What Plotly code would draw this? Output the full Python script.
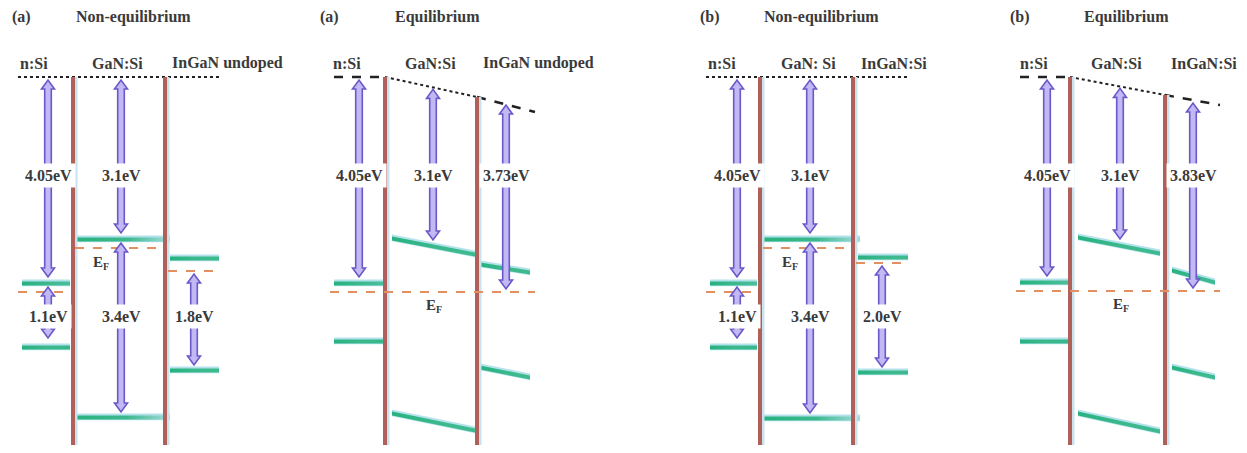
import plotly.graph_objects as go

W, H = 1247, 453
OFF = 8  # browser default body margin

# ---------------- text content ----------------
panel_tags = ["(a)", "(a)", "(b)", "(b)"]
panel_titles = ["Non-equilibrium", "Equilibrium", "Non-equilibrium", "Equilibrium"]
material_labels = [
    ["n:Si", "GaN:Si", "InGaN undoped"],
    ["n:Si", "GaN:Si", "InGaN undoped"],
    ["n:Si", "GaN: Si", "InGaN:Si"],
    ["n:Si", "GaN:Si", "InGaN:Si"],
]
affinity_labels = [["4.05eV", "3.1eV", None], ["4.05eV", "3.1eV", "3.73eV"],
                   ["4.05eV", "3.1eV", None], ["4.05eV", "3.1eV", "3.83eV"]]
bandgap_labels = [["1.1eV", "3.4eV", "1.8eV"], [None, None, None],
                  ["1.1eV", "3.4eV", "2.0eV"], [None, None, None]]

# ---------------- level values (screen energy scale, larger = lower) -------
vac_level = [77, 77, 77, 77]
vac_ingan_left = [77, 97, 77, 95]
vac_ingan_right = [77, 112, 77, 105]
si_cb = [283, 283, 283, 282]
si_vb = [347, 341, 347, 341]
si_ef = [292, 292, 292, 291]
gan_cb_left = [239, 238, 239, 237]
gan_cb_right = [239, 254, 239, 253]
gan_vb_left = [417, 413, 418, 413]
gan_vb_right = [417, 430, 418, 431]
gan_ef = [248, 292, 248, 291]
ingan_cb_left = [258, 264, 257, 270]
ingan_cb_right = [258, 272, 257, 282]
ingan_vb_left = [370, 367, 372, 367]
ingan_vb_right = [370, 377, 372, 377]
ingan_ef = [271, 292, 263, 291]
equilibrium = [False, True, False, True]

# ---------------- layout geometry ----------------
panel_x = [0, 310, 630, 940]
col_si = [(22, 70), (24, 73), (80, 127), (80, 128)]
iface1 = [73, 75, 130, 130]
iface2 = [165, 167, 223, 225]
col_gan = [(75, 170), (82, 165), (133, 230), (138, 220)]
col_ingan = [(170, 219), (170, 220), (228, 278), (232, 275)]
arrow_si_x = [48, 49, 107, 107]
arrow_gan_x = [121, 123, 180, 180]
arrow_ingan_x = [194, 196, 252, 253]
tag_x = [21, 19, 80, 80]
title_x = [133, 127, 191, 186]
mat_x = [(34, 117, 227), (37, 120, 228), (92, 178, 264), (94, 176, 264)]

FONT = "Liberation Serif"
TXT = "#3a3a3a"
ARROW_LINE = "#6a58c8"
ARROW_FILL = "#c2b8f4"

fig = go.Figure()
shapes = []
annotations = []


def band(x0, y0, x1, y1, fade=0.3):
    # light cyan halo
    fig.add_trace(go.Scatter(
        x=[x0, x1, x1, x0, x0], y=[y0 - 3.5, y1 - 3.5, y1 + 3.2, y0 + 3.2, y0 - 3.5],
        mode="lines", line=dict(width=0), fill="toself",
        fillcolor="rgb(180,226,236)", hoverinfo="skip", showlegend=False))
    end_col = "rgb(%d,%d,%d)" % tuple(round(a + (b - a) * fade) for a, b in zip((40, 178, 128), (185, 228, 238)))
    fig.add_trace(go.Scatter(
        x=[x0, x1, x1, x0, x0], y=[y0 - 1.5, y1 - 1.5, y1 + 2.6, y0 + 2.6, y0 - 1.5],
        mode="lines", line=dict(width=0), fill="toself",
        fillgradient=dict(type="horizontal",
                          colorscale=[[0, "rgb(40,178,128)"], [0.55, "rgb(60,185,140)"], [1, end_col]]),
        hoverinfo="skip", showlegend=False))


def arrow(x, ya, yb, hw=3.3, hh=6.5, hl=9):
    p = (f"M {x-hw},{ya+hl} L {x-hh},{ya+hl} L {x},{ya} L {x+hh},{ya+hl} L {x+hw},{ya+hl} "
         f"L {x+hw},{yb-hl} L {x+hh},{yb-hl} L {x},{yb} L {x-hh},{yb-hl} L {x-hw},{yb-hl} Z")
    shapes.append(dict(type="path", path=p, fillcolor=ARROW_FILL,
                       line=dict(color=ARROW_LINE, width=1.6), layer="above"))


def text(x, y, s, size=16, bg=None, bold=True):
    a = dict(x=x, y=y, text=(f"<b>{s}</b>" if bold else s), showarrow=False,
             font=dict(family=FONT, size=size, color=TXT), xanchor="center", yanchor="middle")
    if bg:
        a.update(bgcolor=bg, borderpad=3)
    annotations.append(a)


def ef_label(x, y):
    text(x - 2, y, "E", size=15)
    text(x + 6, y + 4, "F", size=10)


def hline(x0, x1, y0, y1, color, width, dash):
    shapes.append(dict(type="line", x0=x0, x1=x1, y0=y0, y1=y1,
                       line=dict(color=color, width=width, dash=dash), layer="above"))


for p in range(4):
    ox = panel_x[p]
    eq = equilibrium[p]
    text(ox + tag_x[p], 17, panel_tags[p])
    text(ox + title_x[p], 17, panel_titles[p])
    for k in range(3):
        text(ox + mat_x[p][k], 63, material_labels[p][k])

    x1i, x2i = ox + iface1[p], ox + iface2[p]
    sx0, sx1 = ox + col_si[p][0], ox + col_si[p][1]
    gx0, gx1 = ox + col_gan[p][0], ox + col_gan[p][1]
    ix0, ix1 = ox + col_ingan[p][0], ox + col_ingan[p][1]

    # vacuum level
    if not eq:
        hline(sx0 - 4, ix1, vac_level[p], vac_level[p], "#222", 2, "dot")
    else:
        hline(sx0, x1i, vac_level[p], vac_level[p], "#222", 2.5, "dash")
        hline(x1i, x2i, vac_level[p], vac_ingan_left[p], "#222", 2, "dot")
        hline(x2i, ix1 + 5, vac_ingan_left[p], vac_ingan_right[p], "#222", 2.5, "dash")

    # interfaces
    for xi, top in ((x1i, vac_level[p]), (x2i, vac_ingan_left[p])):
        shapes.append(dict(type="line", x0=xi + 3, x1=xi + 3, y0=top, y1=H + 20,
                           line=dict(color="rgb(200,226,238)", width=3), layer="above"))
        shapes.append(dict(type="line", x0=xi, x1=xi, y0=top, y1=H + 20,
                           line=dict(color="rgb(176,96,88)", width=4), layer="above"))

    # bands
    band(sx0, si_cb[p], sx1, si_cb[p], fade=0.25)
    band(sx0, si_vb[p], sx1, si_vb[p], fade=0.1)
    gfade = 0.85 if not eq else 0.15
    band(gx0, gan_cb_left[p], gx1, gan_cb_right[p], fade=gfade)
    band(gx0, gan_vb_left[p], gx1, gan_vb_right[p], fade=gfade)
    band(ix0, ingan_cb_left[p], ix1, ingan_cb_right[p], fade=0.15)
    band(ix0, ingan_vb_left[p], ix1, ingan_vb_right[p], fade=0.15)

    # Fermi levels
    ef_col = "#e39060"
    if not eq:
        hline(sx0 - 4, sx1 - 4, si_ef[p], si_ef[p], ef_col, 2, "dash")
        hline(gx0, x2i, gan_ef[p], gan_ef[p], ef_col, 2, "dash")
        hline(ix0 - 2, ix1, ingan_ef[p], ingan_ef[p], ef_col, 2, "dash")
        ef_label(ox + arrow_gan_x[p] - 21, gan_ef[p] + 14)
    else:
        hline(sx0 - 4, ix1 + 5, si_ef[p], si_ef[p], ef_col, 2, "dash")
        ef_label(ox + arrow_gan_x[p], si_ef[p] + 13)

    # arrows: affinities
    arrow(ox + arrow_si_x[p], vac_level[p] + 3, si_cb[p] - 6)
    if not eq:
        arrow(ox + arrow_gan_x[p], vac_level[p] + 3, gan_cb_left[p] - 6)
    else:
        gy_top = vac_level[p] + (vac_ingan_left[p] - vac_level[p]) * 0.52
        gy_bot = gan_cb_left[p] + (gan_cb_right[p] - gan_cb_left[p]) * 0.5 - 6
        arrow(ox + arrow_gan_x[p], gy_top + 2, gy_bot)
        arrow(ox + arrow_ingan_x[p], vac_ingan_left[p] + 8, si_ef[p] - 3)
    if not eq:
        arrow(ox + arrow_si_x[p], si_cb[p] + 4, si_vb[p] - 9)
        arrow(ox + arrow_gan_x[p], gan_cb_left[p] + 4, gan_vb_left[p] - 5)
        arrow(ox + arrow_ingan_x[p], ingan_ef[p] + 3, ingan_vb_left[p] - 5)

    # labels
    text(ox + arrow_si_x[p], 175, affinity_labels[p][0], bg="white")
    text(ox + arrow_gan_x[p], 175, affinity_labels[p][1], bg="white")
    if affinity_labels[p][2]:
        text(ox + arrow_ingan_x[p], 175, affinity_labels[p][2], bg="white")
    if bandgap_labels[p][0]:
        text(ox + arrow_si_x[p], 316, bandgap_labels[p][0], bg="white")
        text(ox + arrow_gan_x[p], 316, bandgap_labels[p][1], bg="white")
        text(ox + arrow_ingan_x[p], 316, bandgap_labels[p][2], bg="white")

fig.update_layout(
    width=W - 2 * OFF, height=H - 2 * OFF, margin=dict(l=0, r=0, t=0, b=0),
    plot_bgcolor="white", paper_bgcolor="white",
    shapes=shapes, annotations=annotations, showlegend=False,
    xaxis=dict(range=[OFF, W - OFF], visible=False, fixedrange=True),
    yaxis=dict(range=[H - OFF, OFF], visible=False, fixedrange=True),
)
fig.write_html("out.html", config={"displayModeBar": False})
